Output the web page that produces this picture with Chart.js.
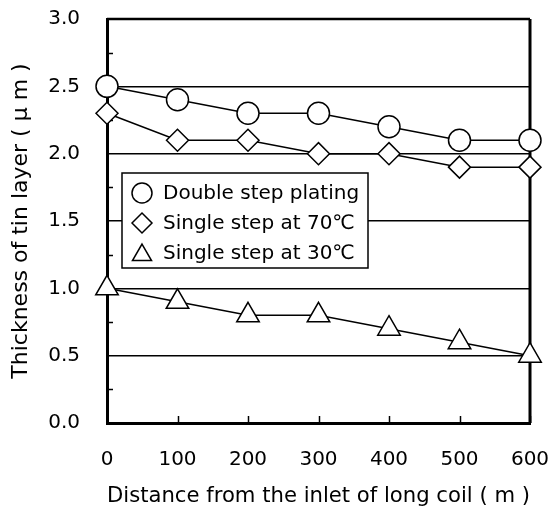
<!DOCTYPE html>
<html>
<head>
<meta charset="utf-8">
<script src="https://cdn.jsdelivr.net/npm/chart.js@4.4.1/dist/chart.umd.min.js"></script>
<style>
  html, body { margin: 0; padding: 0; background: #fff; }
  #wrap { width: 551px; height: 509px; }
</style>
</head>
<body>
<div id="wrap"><canvas id="myCanvas"></canvas></div>
<script>
"use strict";

// data
const distance = [0, 100, 200, 300, 400, 500, 600];
const doubleStep = [2.5, 2.4, 2.3, 2.3, 2.2, 2.1, 2.1];
const single70 = [2.3, 2.1, 2.1, 2.0, 2.0, 1.9, 1.9];
const single30 = [1.0, 0.9, 0.8, 0.8, 0.7, 0.6, 0.5];
const seriesNames = ["Double step plating", "Single step at 70\u2103", "Single step at 30\u2103"];
const seriesStyles = ["circle", "rectRot", "triangle"];
const seriesRadius = [11, 11, 13];

const FONT = "'DejaVu Sans', sans-serif";

function toPoints(ys) {
  return ys.map((y, i) => ({ x: distance[i], y: y }));
}

// white page + frame, inner ticks
const framePlugin = {
  id: "frame",
  beforeDraw(chart) {
    const c = chart.ctx;
    c.save();
    c.fillStyle = "#fff";
    c.fillRect(0, 0, chart.width, chart.height);
    c.restore();
  },
  beforeDatasetsDraw(chart) {
    const c = chart.ctx;
    const a = chart.chartArea;
    const xs = chart.scales.x;
    const ys = chart.scales.y;
    c.save();
    c.strokeStyle = "#000";
    c.lineWidth = 1.5;
    // minor ticks on the y axis (inside)
    for (let v = 0.25; v < 3; v += 0.5) {
      const py = Math.round(ys.getPixelForValue(v)) + 0.5;
      c.beginPath();
      c.moveTo(a.left, py);
      c.lineTo(a.left + 6, py);
      c.stroke();
    }
    // x ticks (inside)
    distance.forEach((d) => {
      const px = Math.round(xs.getPixelForValue(d)) + 0.5;
      c.beginPath();
      c.moveTo(px, a.bottom);
      c.lineTo(px, a.bottom - 7);
      c.stroke();
    });
    // top and right frame
    c.lineWidth = 2.5;
    c.beginPath();
    c.moveTo(a.left, a.top);
    c.lineTo(a.right, a.top);
    c.stroke();
    c.lineWidth = 3;
    c.beginPath();
    c.moveTo(a.right, a.top);
    c.lineTo(a.right, a.bottom);
    c.stroke();
    c.restore();
  },
};

// boxed legend inside the plot
const boxLegend = {
  id: "boxLegend",
  afterDatasetsDraw(chart) {
    const c = chart.ctx;
    const box = { x: 122, y: 173, w: 246, h: 95 };
    c.save();
    c.fillStyle = "#fff";
    c.fillRect(box.x, box.y, box.w, box.h);
    c.strokeStyle = "#000";
    c.lineWidth = 1.5;
    c.strokeRect(box.x, box.y, box.w, box.h);
    c.font = "20px " + FONT;
    c.textBaseline = "middle";
    seriesNames.forEach((name, i) => {
      const cy = box.y + 20 + i * 30;
      c.fillStyle = "#fff";
      c.strokeStyle = "#000";
      c.lineWidth = 1.5;
      Chart.helpers.drawPoint(c, { pointStyle: seriesStyles[i], radius: i === 2 ? 11 : 10, borderWidth: 1.5 }, 142, i === 2 ? cy + 2 : cy);
      c.fillStyle = "#000";
      c.fillText(name, 163, cy + 1);
    });
    c.restore();
  },
};

const ctx = document.getElementById("myCanvas");

const datasets = [doubleStep, single70, single30].map((vals, i) => ({
  label: seriesNames[i],
  data: toPoints(vals),
  borderColor: "#000",
  borderWidth: 1.5,
  backgroundColor: "#fff",
  pointStyle: seriesStyles[i],
  pointRadius: seriesRadius[i],
  pointBorderWidth: 1.5,
  pointBackgroundColor: "#fff",
  pointBorderColor: "#000",
  tension: 0,
  clip: false,
}));

new Chart(ctx, {
  type: "line",
  data: { datasets: datasets },
  options: {
    responsive: true,
    maintainAspectRatio: false,
    animation: false,
    layout: { padding: { left: 0, right: 21, top: 19, bottom: 0 } },
    plugins: {
      legend: { display: false },
      tooltip: { enabled: false },
    },
    scales: {
      x: {
        type: "linear",
        min: 0,
        max: 600,
        ticks: {
          stepSize: 100,
          padding: 0,
          color: "#000",
          font: { family: FONT, size: 20 },
        },
        // invisible tick marks used as spacing so the layout padding stays exact
        grid: { display: true, drawOnChartArea: false, drawTicks: true, tickLength: 25, tickColor: "rgba(0,0,0,0)", color: "rgba(0,0,0,0)" },
        border: { display: true, color: "#000", width: 3 },
        title: {
          display: true,
          text: "Distance from the inlet of long coil ( m )",
          color: "#000",
          font: { family: FONT, size: 22 },
          padding: { top: 0, bottom: 0 },
        },
        afterFit(scale) {
          scale.height = 86;
        },
      },
      y: {
        min: 0,
        max: 3,
        ticks: {
          stepSize: 0.5,
          padding: 0,
          color: "#000",
          font: { family: FONT, size: 20 },
          callback: (v) => v.toFixed(1),
        },
        grid: {
          drawTicks: true,
          tickLength: 27,
          tickColor: "rgba(0,0,0,0)",
          color: "#000",
          lineWidth: (c) => (c.tick && (c.tick.value === 0 || c.tick.value === 3) ? 0 : 1.5),
        },
        border: { display: true, color: "#000", width: 3 },
        title: {
          display: true,
          text: "Thickness of tin layer ( \u03bc m )",
          color: "#000",
          font: { family: FONT, size: 22 },
          padding: { top: 8, bottom: 0 },
        },
        afterFit(scale) {
          scale.width = 107;
        },
      },
    },
  },
  plugins: [framePlugin, boxLegend],
});
</script>
</body>
</html>
